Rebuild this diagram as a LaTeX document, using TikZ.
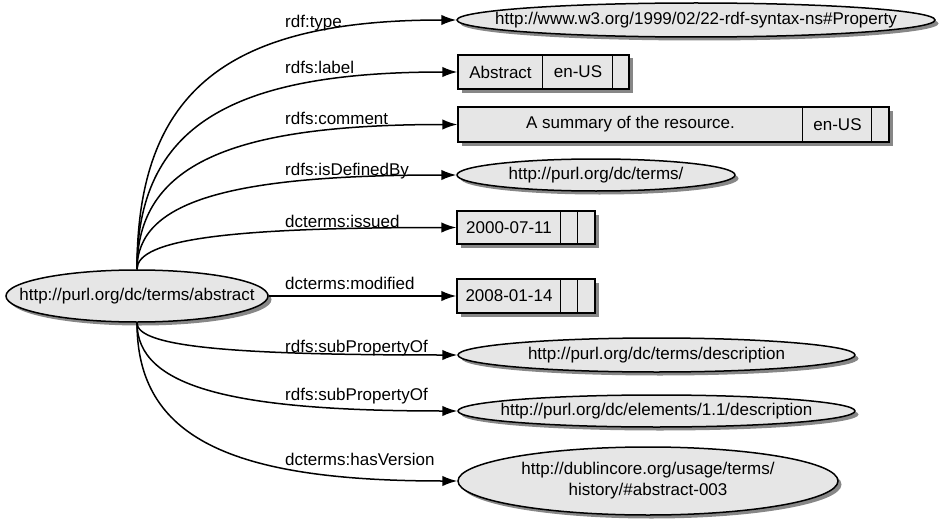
\documentclass[tikz,border=0pt]{standalone}
\usepackage{fontspec}
\setmainfont{Liberation Sans}
\usetikzlibrary{shapes.geometric,arrows.meta,shadows}
\definecolor{nodefill}{RGB}{230,230,230}
\definecolor{shadowgray}{RGB}{135,135,135}
\newcommand\dfont{\fontsize{17pt}{21pt}\selectfont}
\tikzset{
  x=1pt, y=-1pt,
  base/.style={draw=black, line width=1.5pt, fill=nodefill, inner sep=0pt,
    drop shadow={shadow xshift=3.5pt, shadow yshift=-3.5pt, fill=shadowgray, opacity=1}},
  res/.style={base, ellipse},
  lit/.style={base, rectangle},
  celltext/.style={font=\dfont, inner sep=0pt, align=center},
  divider/.style={line width=1.5pt},
  edge/.style={line width=1.5pt, -{Latex[length=15pt,width=10.5pt]}},
  lbl/.style={font=\dfont, inner sep=0pt, anchor=base west},
}
\begin{document}
\begin{tikzpicture}
\useasboundingbox (0,0) rectangle (940,519);

% subject
\node[res, minimum width=262, minimum height=52] (main) at (137,296) {};
\node[celltext] (maintext) at (main.center) {http://purl.org/dc/terms/abstract};

% objects
\node[res, minimum width=478, minimum height=34] (t1) at (696,20) {};
\node[celltext] (t1text) at (t1.center) {http://www.w3.org/1999/02/22-rdf-syntax-ns\#Property};

\node[lit, minimum width=171, minimum height=34] (t2) at (543.5,72) {};
\draw[divider] ([xshift=85pt]t2.north west) -- ([xshift=85pt]t2.south west);
\draw[divider] ([xshift=155pt]t2.north west) -- ([xshift=155pt]t2.south west);
\node[celltext] (t2a) at (500.5,72) {Abstract};
\node[celltext] (t2b) at (578,72) {en-US};

\node[lit, minimum width=431, minimum height=35] (t3) at (673.5,124.5) {};
\draw[divider] ([xshift=345pt]t3.north west) -- ([xshift=345pt]t3.south west);
\draw[divider] ([xshift=414pt]t3.north west) -- ([xshift=414pt]t3.south west);
\node[celltext] (t3a) at (630.5,124.5) {A summary of the resource.};
\node[celltext] (t3b) at (837.5,124.5) {en-US};

\node[res, minimum width=278, minimum height=32] (t4) at (596,175) {};
\node[celltext] (t4text) at (t4.center) {http://purl.org/dc/terms/};

\node[lit, minimum width=138, minimum height=33] (t5) at (526,227.5) {};
\draw[divider] ([xshift=104pt]t5.north west) -- ([xshift=104pt]t5.south west);
\draw[divider] ([xshift=121pt]t5.north west) -- ([xshift=121pt]t5.south west);
\node[celltext] (t5a) at (509,227.5) {2000-07-11};

\node[lit, minimum width=138, minimum height=34] (t6) at (526,296) {};
\draw[divider] ([xshift=104pt]t6.north west) -- ([xshift=104pt]t6.south west);
\draw[divider] ([xshift=121pt]t6.north west) -- ([xshift=121pt]t6.south west);
\node[celltext] (t6a) at (509,296) {2008-01-14};

\node[res, minimum width=397, minimum height=34] (t7) at (656.5,355) {};
\node[celltext] (t7text) at (t7.center) {http://purl.org/dc/terms/description};
\node[res, minimum width=397, minimum height=32] (t8) at (656.5,411) {};
\node[celltext] (t8text) at (t8.center) {http://purl.org/dc/elements/1.1/description};
\node[res, minimum width=380, minimum height=68] (t9) at (648,481) {};
\node[celltext] (t9text) at (t9.center) {http://dublincore.org/usage/terms/\\history/\#abstract-003};

% properties
\draw[edge] (main.north) .. controls +(0,-180) and +(-227,0) .. (t1.west);
\draw[edge] (main.north) .. controls +(0,-143) and +(-227,0) .. (t2.west);
\draw[edge] (main.north) .. controls +(0,-105) and +(-227,0) .. (t3.west);
\draw[edge] (main.north) .. controls +(0,-68) and +(-227,0) .. (t4.west);
\draw[edge] (main.north) .. controls +(0,-30) and +(-227,0) .. (t5.west);
\draw[edge] (main.east) -- (t6.west);
\draw[edge] (main.south) .. controls +(0,24) and +(-227,0) .. (t7.west);
\draw[edge] (main.south) .. controls +(0,64) and +(-227,0) .. (t8.west);
\draw[edge] (main.south) .. controls +(0,115) and +(-227,0) .. (t9.west);

% property names
\node[lbl] (l1) at (285,28) {rdf:type};
\node[lbl] (l2) at (285,74) {rdfs:label};
\node[lbl] (l3) at (285,124) {rdfs:comment};
\node[lbl] (l4) at (285,175) {rdfs:isDefinedBy};
\node[lbl] (l5) at (285,227) {dcterms:issued};
\node[lbl] (l6) at (285,289) {dcterms:modified};
\node[lbl] (l7) at (285,352) {rdfs:subPropertyOf};
\node[lbl] (l8) at (285,400) {rdfs:subPropertyOf};
\node[lbl] (l9) at (285,465) {dcterms:hasVersion};
\end{tikzpicture}
\end{document}
